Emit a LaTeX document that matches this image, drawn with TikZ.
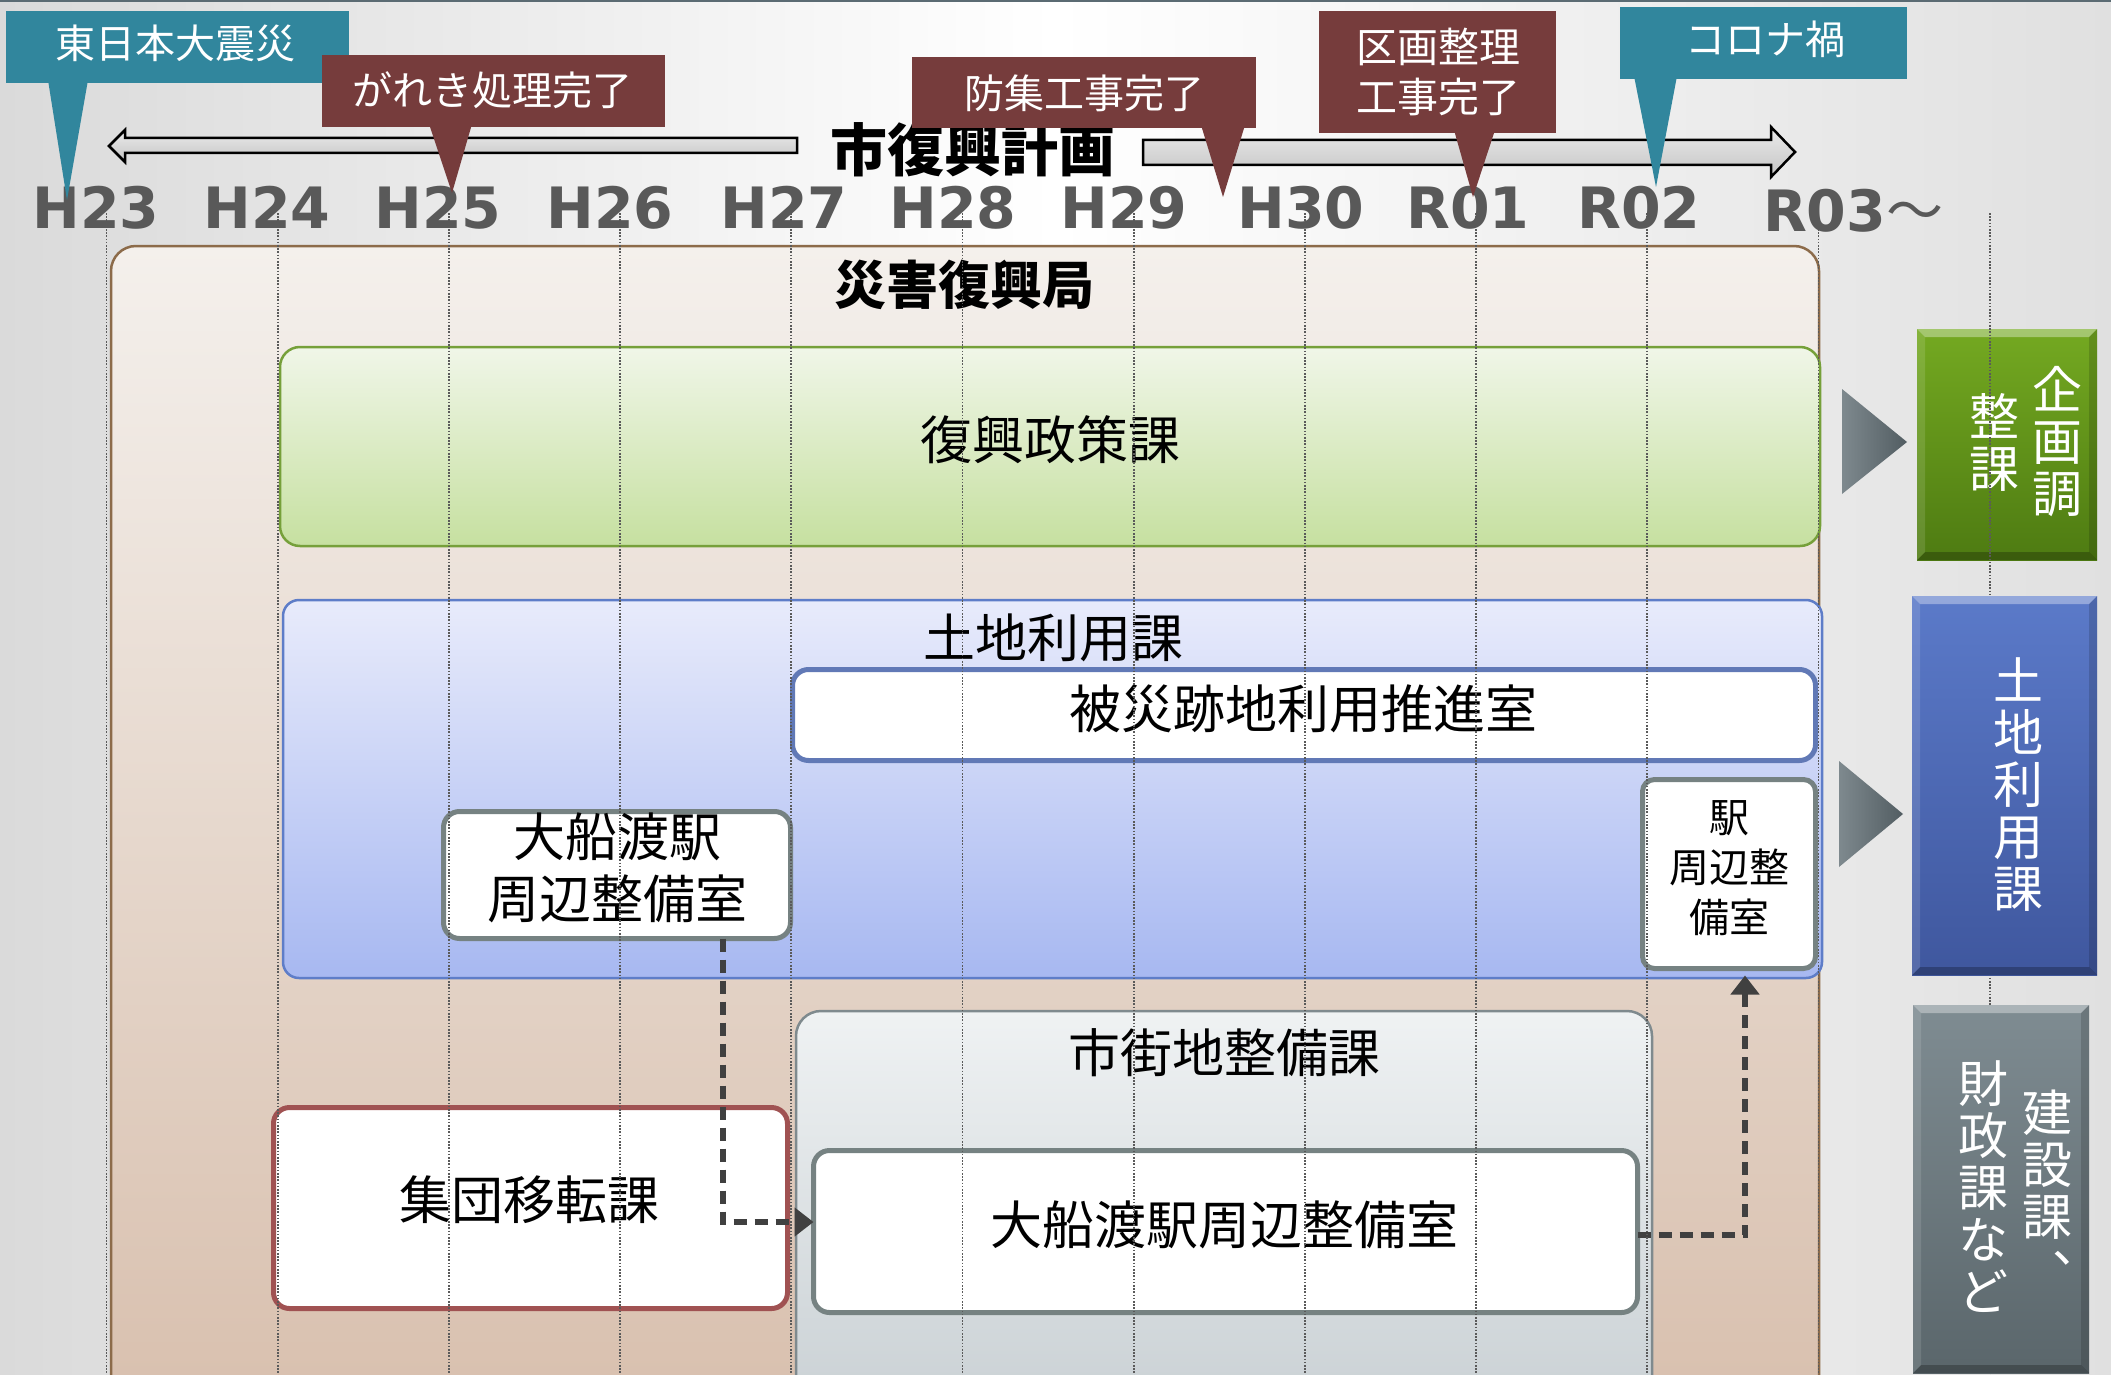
\documentclass[tikz,border=0pt]{standalone}
\usepackage{fontspec}
\setmainfont{Noto Sans CJK JP}
\newfontfamily\jpfont{Noto Sans CJK JP}
\newfontfamily\yrfont{DejaVu Sans}
\usetikzlibrary{arrows.meta}
\newcommand\fsz[2]{\fontsize{#1}{#2}\selectfont}
\definecolor{bgside}{HTML}{DADADA}
\definecolor{bgside2}{HTML}{E0E0E0}
\definecolor{topline}{HTML}{5B6B73}
\definecolor{bureauedge}{HTML}{8C6B4A}
\definecolor{bureautop}{HTML}{F4F0EC}
\definecolor{bureaubot}{HTML}{D8BFAD}
\definecolor{greenedge}{HTML}{76A03A}
\definecolor{greentop}{HTML}{F0F6E8}
\definecolor{greenbot}{HTML}{C6E0A0}
\definecolor{blueedge}{HTML}{5E7DC8}
\definecolor{bluetop}{HTML}{E8EBFB}
\definecolor{bluebot}{HTML}{A7B8F1}
\definecolor{hisaiedge}{HTML}{6179B6}
\definecolor{boxgray}{HTML}{768282}
\definecolor{urbanedge}{HTML}{7F8A8E}
\definecolor{urbantop}{HTML}{EFF2F3}
\definecolor{urbanbot}{HTML}{C8CFD3}
\definecolor{shudanedge}{HTML}{A05252}
\definecolor{conngray}{HTML}{404040}
\definecolor{dotgray}{HTML}{5A5A5A}
\definecolor{yeargray}{HTML}{595959}
\definecolor{calloutteal}{HTML}{31869D}
\definecolor{calloutbrown}{HTML}{763C3C}
\definecolor{arrtop}{HTML}{EBEBEB}
\definecolor{arrbot}{HTML}{C4C4C4}
\definecolor{rgreentop}{HTML}{74A921}
\definecolor{rgreenbot}{HTML}{4E7B12}
\definecolor{rbluetop}{HTML}{5B7AC9}
\definecolor{rbluebot}{HTML}{3F579E}
\definecolor{rgraytop}{HTML}{7F8C92}
\definecolor{rgraybot}{HTML}{5A666B}
\definecolor{trileft}{HTML}{7E898E}
\definecolor{triright}{HTML}{525D62}
\newcommand\bevel[1]{%
 \fill[white,opacity=.35] (#1.north west) -- (#1.north east) -- ([shift={(-8pt,-8pt)}]#1.north east) -- ([shift={(8pt,-8pt)}]#1.north west) -- cycle;
 \fill[black,opacity=.25] (#1.south west) -- (#1.south east) -- ([shift={(-8pt,8pt)}]#1.south east) -- ([shift={(8pt,8pt)}]#1.south west) -- cycle;
 \fill[white,opacity=.12] (#1.north west) -- ([shift={(8pt,-8pt)}]#1.north west) -- ([shift={(8pt,8pt)}]#1.south west) -- (#1.south west) -- cycle;
 \fill[black,opacity=.15] (#1.north east) -- ([shift={(-8pt,-8pt)}]#1.north east) -- ([shift={(-8pt,8pt)}]#1.south east) -- (#1.south east) -- cycle;}
\begin{document}
\begin{tikzpicture}[x=1pt,y=-1pt,
  every node/.style={inner sep=0pt, outer sep=0pt},
  f52/.style={font=\fsz{52}{62}, align=center},
  ctext/.style={text=white, font=\fsz{40}{50}, align=center},
  callT/.style={fill=calloutteal, anchor=north west},
  callB/.style={fill=calloutbrown, anchor=north west},
  whitebox/.style={draw=boxgray, line width=5pt, fill=white, rounded corners=16pt, anchor=north west},
  dotline/.style={draw=dotgray, line width=1.8pt, dash pattern=on 1.6pt off 1.6pt},
  conn/.style={draw=conngray, line width=5.5pt, dash pattern=on 13pt off 8pt, -{Triangle[length=19pt,width=28pt]}},
  year/.style={font=\yrfont\bfseries\fontsize{57}{60}\selectfont, text=yeargray, anchor=base},
  vcol/.style={text=white, font=\fsz{50}{52}, align=center},
  rbox/.style={anchor=north west}
]
\useasboundingbox (0,0) rectangle (2111,1375);
\clip (0,0) rectangle (2111,1375);
% background
\shade[left color=bgside, right color=bgside2, middle color=white] (0,0) rectangle (2111,1375);
\draw[line width=3pt, topline] (0,1) -- (2111,1);

% main bureau
\node[draw=bureauedge, line width=2.5pt, rounded corners=25pt, top color=bureautop, bottom color=bureaubot, minimum width=1708pt, minimum height=1180pt, anchor=north west] (bureau) at (111,246) {};
\node[font=\fsz{52}{62}\bfseries] (bureauT) at (964,285) {災害復興局};

% policy
\node[draw=greenedge, line width=2.5pt, rounded corners=20pt, top color=greentop, bottom color=greenbot, minimum width=1540pt, minimum height=199pt, anchor=north west] (policy) at (280,347) {};
\node[f52] (policyT) at (1050,440) {復興政策課};

% land use
\node[draw=blueedge, line width=2.5pt, rounded corners=16pt, top color=bluetop, bottom color=bluebot, minimum width=1539pt, minimum height=378pt, anchor=north west] (landuse) at (283,600) {};
\node[f52] (landuseT) at (1053,638) {土地利用課};
\node[whitebox, draw=hisaiedge, minimum width=1023pt, minimum height=91pt] (hisai) at (792.5,669.5) {};
\node[f52] (hisaiT) at (1303,709) {被災跡地利用推進室};
\node[whitebox, minimum width=347pt, minimum height=127pt] (stA) at (443.5,811.5) {};
\node[f52] (stAT) at (617,868) {大船渡駅\\周辺整備室};
\node[whitebox, rounded corners=12pt, minimum width=173pt, minimum height=189pt] (stB) at (1642.5,779.5) {};
\node[font=\fsz{40}{50}, align=center] (stBT) at (1729,868) {駅\\周辺整\\備室};

% urban
\node[draw=urbanedge, line width=2.5pt, rounded corners=25pt, top color=urbantop, bottom color=urbanbot, minimum width=856pt, minimum height=420pt, anchor=north west] (urban) at (796,1011) {};
\node[f52] (urbanT) at (1224,1053) {市街地整備課};
\node[whitebox, minimum width=824pt, minimum height=162pt] (stC) at (813.5,1150.5) {};
\node[f52] (stCT) at (1224,1225) {大船渡駅周辺整備室};
\node[whitebox, draw=shudanedge, minimum width=514pt, minimum height=201pt] (shudan) at (273.5,1107.5) {};
\node[f52] (shudanT) at (529,1200) {集団移転課};

% connectors
\coordinate (k1) at (723,1222);
\coordinate (k2) at (1745,1235);
\draw[conn] (stA.south -| k1) |- (k1 -| stC.west);
\draw[conn, shorten >=7pt] (k2 -| stC.east) -| (stB.south -| k2);

% right green box (under dotted line)
\node[rbox, top color=rgreentop, bottom color=rgreenbot, minimum width=180pt, minimum height=231pt] (rG) at (1917,329) {};
\bevel{rG}
\node[vcol] (rG1) at (2057,442) {企\\画\\調};
\node[vcol] (rG2) at (1994,442) {整\\課};

% dotted year lines
\foreach \i in {0,...,11}
  \draw[dotline] ({106.5+171.2*\i},213) -- ({106.5+171.2*\i},1375);

% right blue & gray boxes
\node[rbox, top color=rbluetop, bottom color=rbluebot, minimum width=185pt, minimum height=379pt] (rB) at (1912,596) {};
\bevel{rB}
\node[vcol] (rB1) at (2018,785) {土\\地\\利\\用\\課};
\node[rbox, top color=rgraytop, bottom color=rgraybot, minimum width=176pt, minimum height=368pt] (rY) at (1913,1005) {};
\bevel{rY}
\node[vcol] (rY1) at (2047,1189) {建\\設\\課\\\makebox[1em][l]{\hspace*{0.6em}\raisebox{0.5em}{、}}};
\node[vcol] (rY2) at (1983,1187) {財\\政\\課\\な\\ど};

% right triangles
\shade[left color=trileft, right color=triright] (1842,389) -- (1907,442) -- (1842,494) -- cycle;
\shade[left color=trileft, right color=triright] (1839,761) -- (1903,814) -- (1839,867) -- cycle;

% year labels
\foreach \xx/\lab in {96/H23, 267/H24, 438/H25, 610/H26, 784/H27, 953/H28, 1124/H29, 1301/H30, 1468/R01, 1639/R02}
  \node[year] (y\lab) at (\xx,229) {\lab};
\node[year, anchor=base west] (yR03) at (1763,231) {R03{\jpfont\mdseries ～}};

% timeline arrows and title
\shadedraw[top color=arrtop, bottom color=arrbot, draw=black, line width=2.5pt] (109,146) -- (125,130) -- (125,138) -- (797,138) -- (797,153) -- (125,153) -- (125,162) -- cycle;
\shadedraw[top color=arrtop, bottom color=arrbot, draw=black, line width=2.5pt] (1143,140) -- (1771,140) -- (1771,127) -- (1795,152) -- (1771,177) -- (1771,165) -- (1143,165) -- cycle;
\node[font=\fsz{57}{60}\bfseries] (plan) at (973,150) {市復興計画};

% callouts
\fill[calloutteal] (48,80) -- (67,200) -- (88,80) -- cycle;
\node[callT, minimum width=343pt, minimum height=72pt] (cbA) at (6,11) {};
\node[ctext] (cbAT) at (175,43) {東日本大震災};
\fill[calloutbrown] (429,124) -- (452,193) -- (472,124) -- cycle;
\node[callB, minimum width=343pt, minimum height=72pt] (cbB) at (322,55) {};
\node[ctext] (cbBT) at (492,90) {がれき処理完了};
\fill[calloutbrown] (1201,125) -- (1223,197) -- (1245,125) -- cycle;
\node[callB, minimum width=344pt, minimum height=71pt] (cbC) at (912,57) {};
\node[ctext] (cbCT) at (1084,93) {防集工事完了};
\fill[calloutbrown] (1454,130) -- (1473,197) -- (1495,130) -- cycle;
\node[callB, minimum width=237pt, minimum height=122pt] (cbD) at (1319,11) {};
\node[ctext, font=\fsz{41}{50}] (cbDT) at (1438,72) {区画整理\\工事完了};
\fill[calloutteal] (1634,76) -- (1656,187) -- (1677,76) -- cycle;
\node[callT, minimum width=287pt, minimum height=72pt] (cbE) at (1620,7) {};
\node[ctext] (cbET) at (1765,39) {コロナ禍};
\end{tikzpicture}
\end{document}
